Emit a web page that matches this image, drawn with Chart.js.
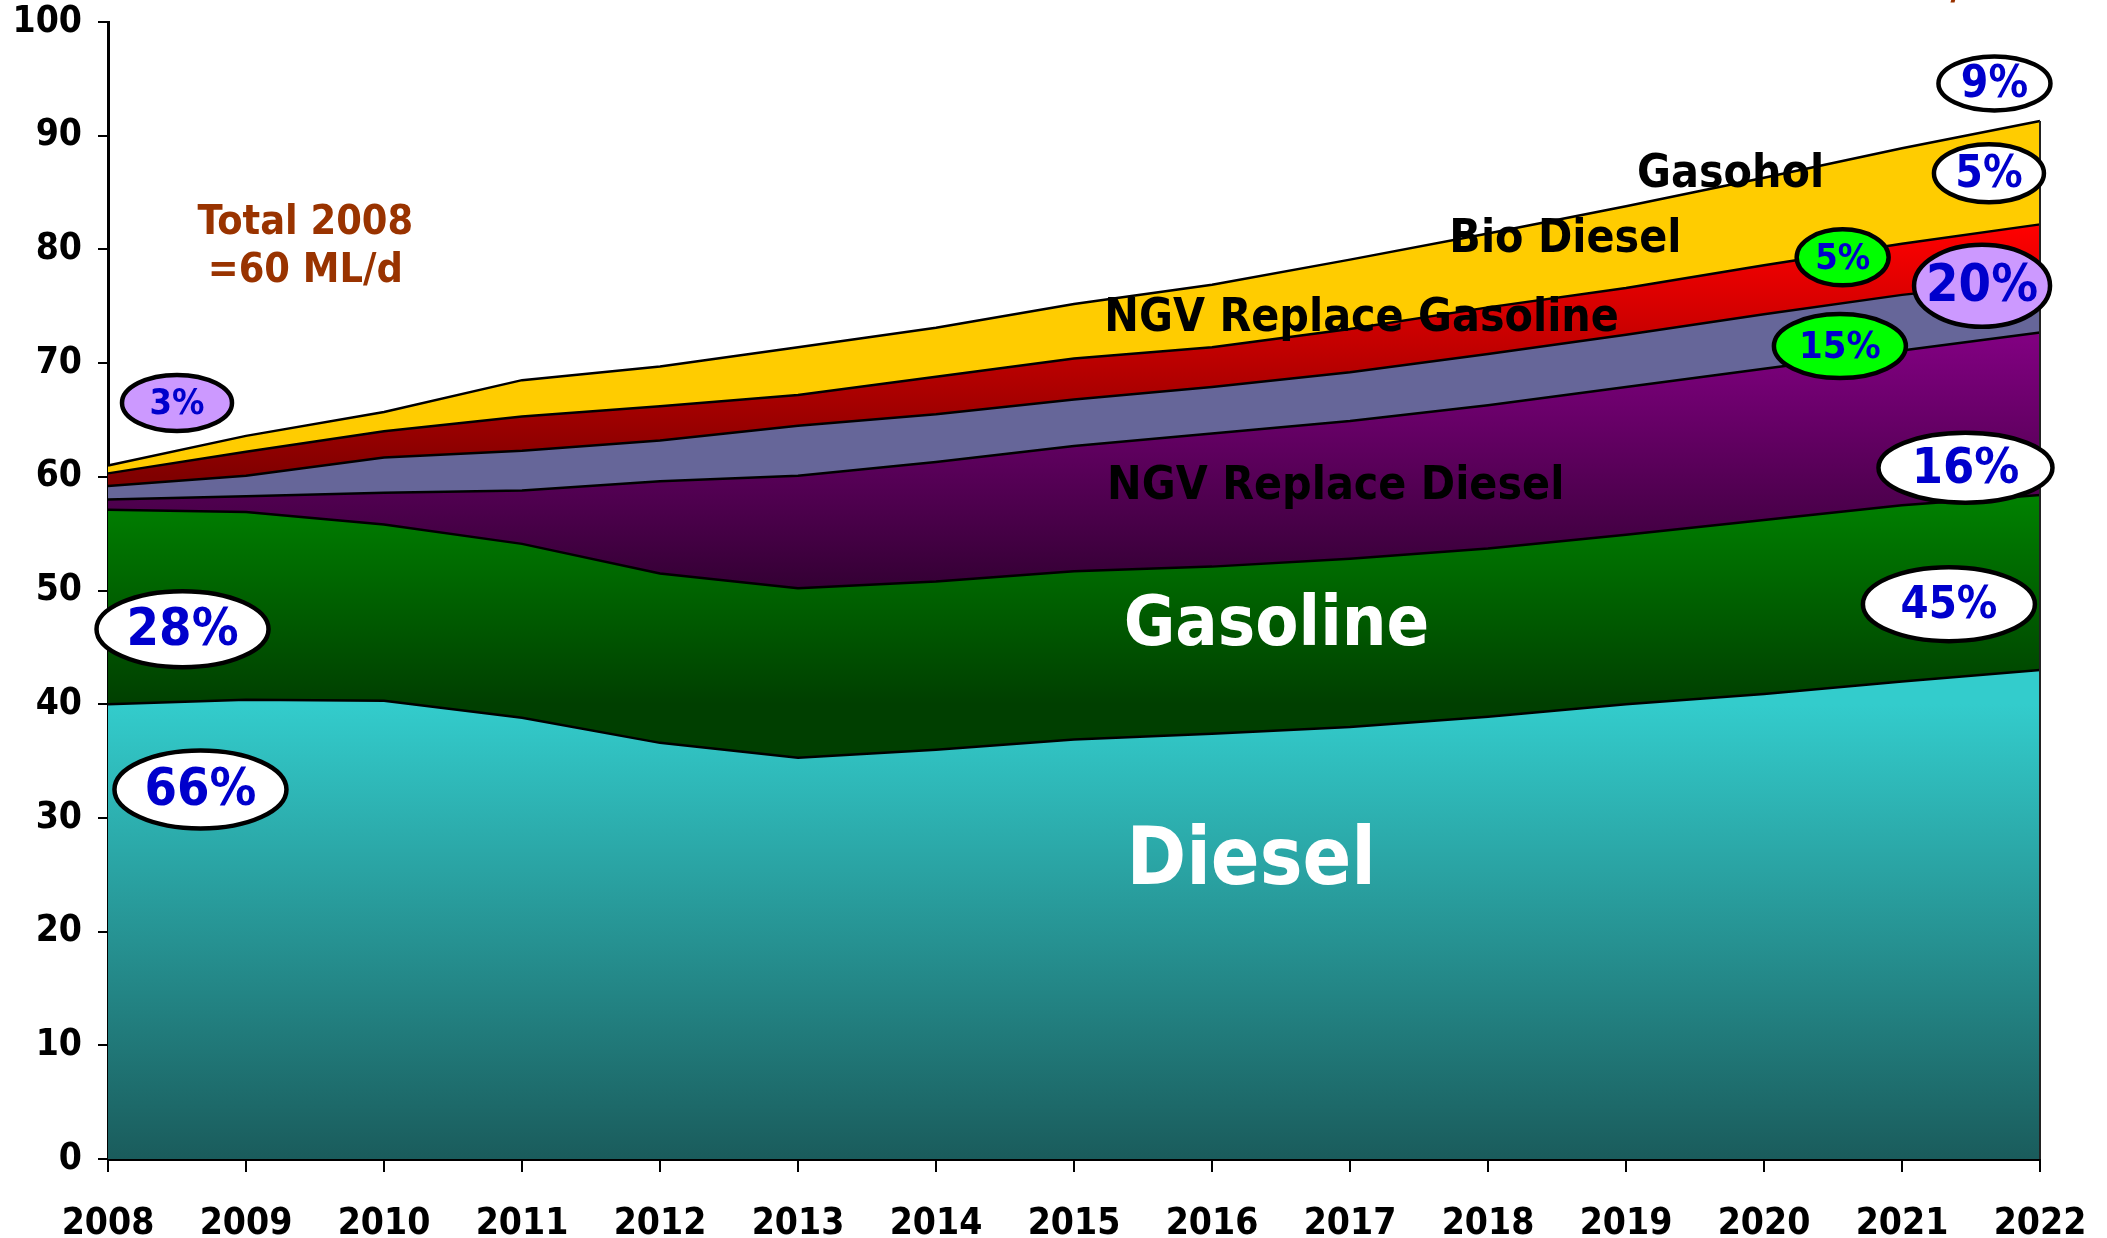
<!DOCTYPE html>
<html>
<head>
<meta charset="utf-8">
<script src="https://cdn.jsdelivr.net/npm/chart.js@4/dist/chart.umd.min.js"></script>
<style>
  body { margin: 0; background: #fff; }
  #wrap { width: 2107px; height: 1238px; position: relative; }
</style>
</head>
<body>
<div id="wrap"><canvas id="fuel"></canvas></div>
<script>
// fuel demand by type, ML/d, stacked
const years = ['2008', '2009', '2010', '2011', '2012', '2013', '2014', '2015',
               '2016', '2017', '2018', '2019', '2020', '2021', '2022'];
const diesel      = [40.0, 40.4, 40.3, 38.8, 36.6, 35.3, 36.0, 36.9, 37.4, 38.0, 38.9, 40.0, 40.9, 42.0, 43.0];
const gasoline    = [17.1, 16.5, 15.5, 15.3, 14.9, 14.9, 14.8, 14.8, 14.7, 14.8, 14.8, 14.9, 15.3, 15.5, 15.4];
const ngvDiesel   = [0.9, 1.4, 2.8, 4.7, 8.1, 9.9, 10.5, 11.0, 11.7, 12.1, 12.6, 13.0, 13.3, 13.6, 14.3];
const ngvGasoline = [1.2, 1.8, 3.1, 3.5, 3.6, 4.4, 4.2, 4.1, 4.1, 4.3, 4.5, 4.6, 4.8, 4.9, 4.6];
const bioDiesel   = [1.1, 2.1, 2.3, 3.0, 3.0, 2.7, 3.3, 3.6, 3.5, 3.8, 4.1, 4.1, 4.3, 4.5, 4.9];
const gasohol     = [0.7, 1.4, 1.7, 3.2, 3.5, 4.2, 4.3, 4.8, 5.5, 6.1, 6.5, 7.2, 7.7, 8.4, 9.1];
const yMin = 0, yMax = 100, yStep = 10;

var FONT = "'DejaVu Sans Condensed', 'DejaVu Sans', sans-serif";

// percentage bubbles (x = year index, y = ML/d)
const bubbles = [
  { text: '3%',  at: 0.50,  value: 66.5, rx: 55, ry: 28, fill: '#CC99FF', size: 36 },
  { text: '28%', at: 0.54,  value: 46.6, rx: 86, ry: 38, fill: '#FFFFFF', size: 52 },
  { text: '66%', at: 0.67,  value: 32.5, rx: 86, ry: 39, fill: '#FFFFFF', size: 52 },
  { text: '9%',  at: 13.67, value: 94.6, rx: 56, ry: 27, fill: '#FFFFFF', size: 44 },
  { text: '5%',  at: 13.63, value: 86.7, rx: 55, ry: 29, fill: '#FFFFFF', size: 44 },
  { text: '5%',  at: 12.57, value: 79.3, rx: 46, ry: 28, fill: '#00FF00', size: 36 },
  { text: '20%', at: 13.58, value: 76.8, rx: 68, ry: 41, fill: '#CC99FF', size: 52 },
  { text: '15%', at: 12.55, value: 71.5, rx: 66, ry: 32, fill: '#00FF00', size: 38 },
  { text: '16%', at: 13.46, value: 60.8, rx: 87, ry: 35, fill: '#FFFFFF', size: 50 },
  { text: '45%', at: 13.34, value: 48.8, rx: 86, ry: 37, fill: '#FFFFFF', size: 45 }
];

// series names written on the areas
const names = [
  { text: 'Gasohol',              at: 11.08, value: 86.5, size: 46, color: '#000000' },
  { text: 'Bio Diesel',           at: 9.72,  value: 80.8, size: 46, color: '#000000' },
  { text: 'NGV Replace Gasoline', at: 7.22,  value: 73.9, size: 46, color: '#000000' },
  { text: 'NGV Replace Diesel',   at: 7.24,  value: 59.1, size: 46, color: '#000000' },
  { text: 'Gasoline',             at: 7.36,  value: 46.8, size: 70, color: '#FFFFFF' },
  { text: 'Diesel',               at: 7.38,  value: 26.0, size: 80, color: '#FFFFFF' }
];

// vertical gradient between two values
function vGradient(chart, lo, loColor, hi, hiColor) {
  if (!chart.chartArea) return loColor;
  var y = chart.scales.y;
  var g = chart.ctx.createLinearGradient(0, y.getPixelForValue(lo), 0, y.getPixelForValue(hi));
  g.addColorStop(0, loColor);
  g.addColorStop(1, hiColor);
  return g;
}

function areaSet(label, data, fill, bg) {
  return {
    label: label,
    data: data,
    fill: fill,
    backgroundColor: bg,
    borderColor: '#000000',
    borderWidth: 2.5,
    pointRadius: 0,
    tension: 0
  };
}

const labelPlugin = {
  id: 'labels',
  afterDatasetsDraw(chart) {
    const ctx = chart.ctx;
    const x = chart.scales.x, y = chart.scales.y;
    const last = years.length - 1;
    const total = diesel[last] + gasoline[last] + ngvDiesel[last] + ngvGasoline[last] + bioDiesel[last] + gasohol[last];

    ctx.save();
    // right edge of the stacked area
    ctx.beginPath();
    ctx.moveTo(x.getPixelForValue(last), y.getPixelForValue(0));
    ctx.lineTo(x.getPixelForValue(last), y.getPixelForValue(total));
    ctx.strokeStyle = '#222';
    ctx.lineWidth = 2;
    ctx.stroke();

    ctx.textBaseline = 'middle';
    names.forEach(function (n) {
      ctx.font = 'bold ' + n.size + 'px ' + FONT;
      ctx.fillStyle = n.color;
      ctx.textAlign = 'left';
      ctx.fillText(n.text, x.getPixelForValue(n.at), y.getPixelForValue(n.value));
    });

    // total note
    ctx.font = 'bold 41px ' + FONT;
    ctx.fillStyle = '#993300';
    ctx.textAlign = 'center';
    ctx.fillText('Total 2008', x.getPixelForValue(1.43), y.getPixelForValue(82.3));
    ctx.fillText('=60 ML/d', x.getPixelForValue(1.43), y.getPixelForValue(78.1));
    // second note, cut by the top edge: only the slash tail shows
    ctx.textAlign = 'right';
    ctx.textBaseline = 'alphabetic';
    ctx.fillText('=91 ML/d', x.getPixelForValue(13.64), -1);

    ctx.textBaseline = 'middle';
    bubbles.forEach(function (b) {
      const px = x.getPixelForValue(b.at), py = y.getPixelForValue(b.value);
      ctx.beginPath();
      ctx.ellipse(px, py, b.rx, b.ry, 0, 0, Math.PI * 2);
      ctx.fillStyle = b.fill;
      ctx.fill();
      ctx.lineWidth = 4.5;
      ctx.strokeStyle = '#000';
      ctx.stroke();
      ctx.font = 'bold ' + b.size + 'px ' + FONT;
      ctx.fillStyle = '#0000CC';
      ctx.textAlign = 'center';
      ctx.fillText(b.text, px, py + 2);
    });
    ctx.restore();
  }
};

var ctx = document.getElementById('fuel').getContext('2d');
const fuelChart = new Chart(ctx, {
  type: 'line',
  data: {
    labels: years,
    datasets: [
      areaSet('Diesel', diesel, 'origin', function (c) { return vGradient(c.chart, 0, '#1A5C5C', 40, '#33CCCC'); }),
      areaSet('Gasoline', gasoline, '-1', function (c) { return vGradient(c.chart, 40, '#003F00', 58, '#008000'); }),
      areaSet('NGV Replace Diesel', ngvDiesel, '-1', function (c) { return vGradient(c.chart, 50, '#330033', 72, '#800080'); }),
      areaSet('NGV Replace Gasoline', ngvGasoline, '-1', '#666699'),
      areaSet('Bio Diesel', bioDiesel, '-1', function (c) { return vGradient(c.chart, 60, '#800000', 82, '#FF0000'); }),
      areaSet('Gasohol', gasohol, '-1', '#FFCC00')
    ]
  },
  options: {
    responsive: true,
    maintainAspectRatio: false,
    animation: false,
    layout: { padding: { top: 22, right: 67, left: 0, bottom: 0 } },
    plugins: {
      legend: { display: false },
      tooltip: { enabled: false }
    },
    scales: {
      x: {
        grid: { drawOnChartArea: false, tickLength: 13, color: '#000', lineWidth: 2 },
        border: { display: true, color: '#000', width: 3 },
        ticks: {
          autoSkip: false, maxRotation: 0, padding: 30, color: '#000',
          font: { family: FONT, size: 37, weight: 'bold' }
        },
        afterFit: function (s) { s.height = 79; s.paddingLeft = 0; s.paddingRight = 0; }
      },
      y: {
        stacked: true,
        min: yMin,
        max: yMax,
        grid: { drawOnChartArea: false, tickLength: 10, color: '#000', lineWidth: 2 },
        border: { display: true, color: '#000', width: 3 },
        ticks: {
          stepSize: yStep, padding: 16, color: '#000',
          font: { family: FONT, size: 37, weight: 'bold' }
        },
        afterFit: function (s) { s.width = 108; s.paddingTop = 0; s.paddingBottom = 0; }
      }
    }
  },
  plugins: [labelPlugin]
});
</script>
</body>
</html>
